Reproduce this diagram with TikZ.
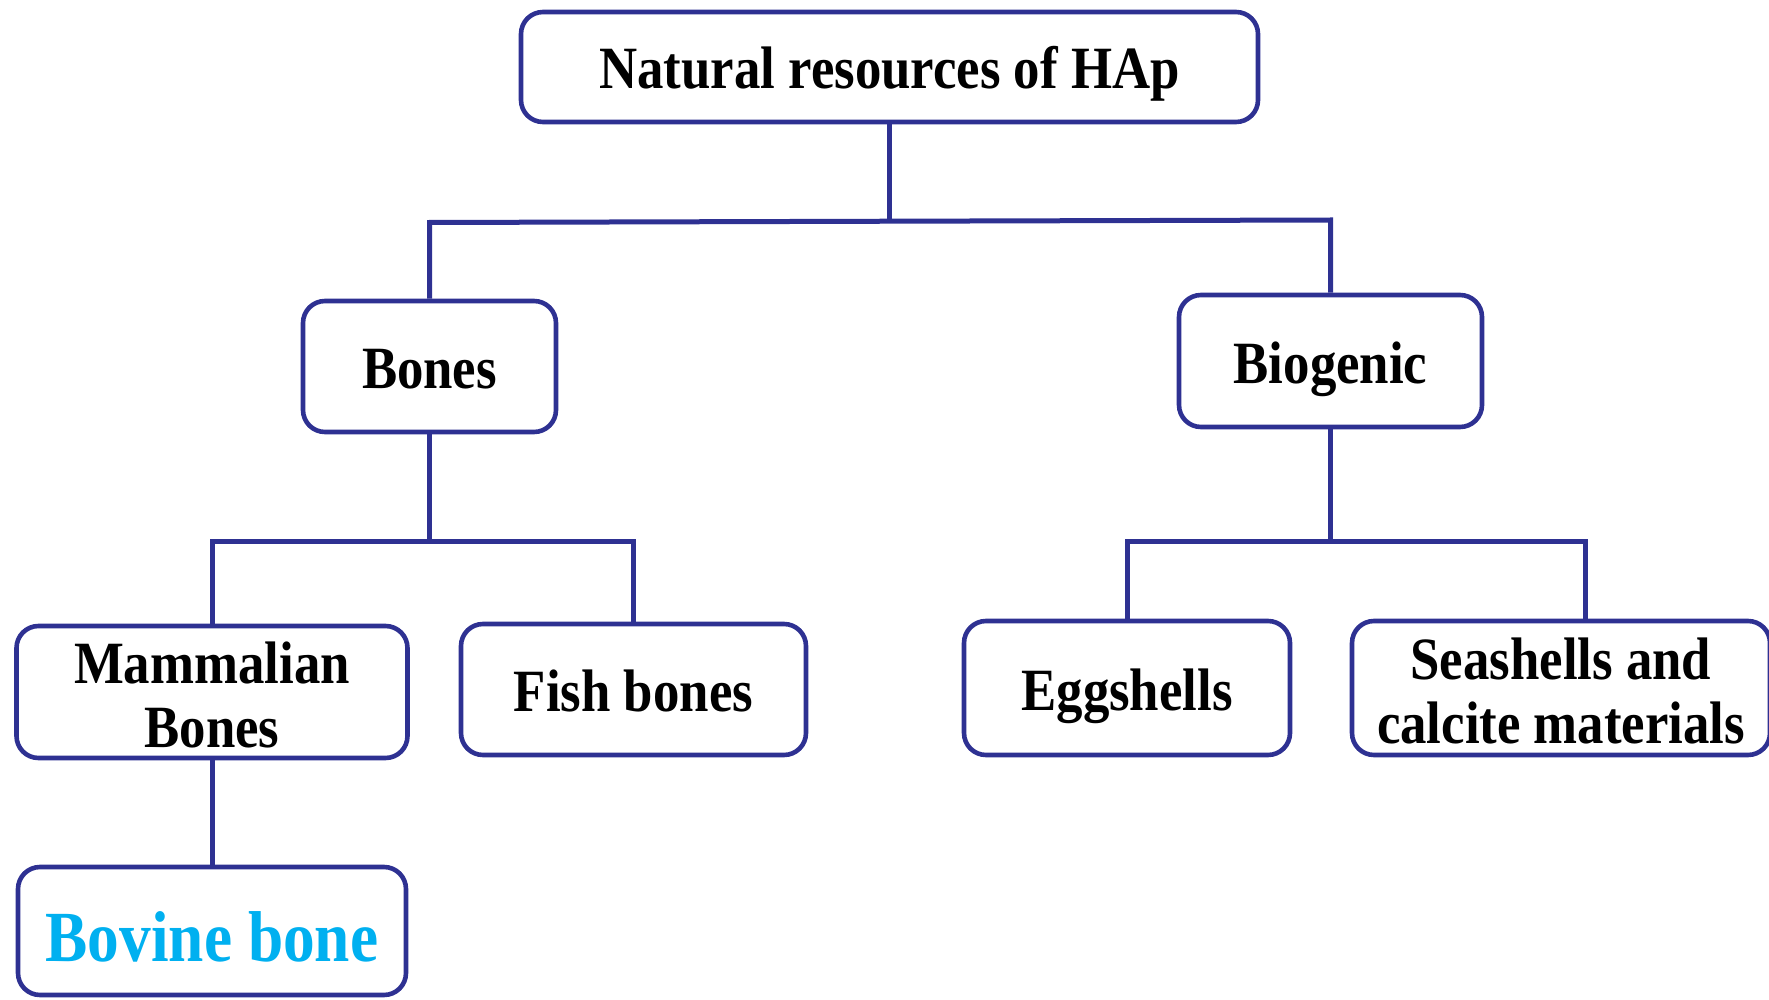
\documentclass[tikz,border=0pt]{standalone}
\usepackage{fontspec}
\newfontfamily\labfont{Liberation Serif}[FakeStretch=0.88]
\definecolor{navy}{RGB}{46,49,146}
\definecolor{bovinecyan}{RGB}{0,176,240}
\newcommand{\firststrut}{\rule{0pt}{47pt}}
\begin{document}
\begin{tikzpicture}[x=1pt,y=-1pt,
  box/.style={draw=navy, line width=4.6pt, rounded corners=22pt, fill=white,
    inner sep=0pt, align=center,
    font=\labfont\bfseries\fontsize{60}{64}\selectfont},
  oneline/.style={text height=52pt, text depth=8pt},
  conn/.style={draw=navy, line width=5pt}]
\useasboundingbox (0,0) rectangle (1769,1000);

% boxes
\node[box, oneline, minimum width=737pt, minimum height=110pt] (top) at (889.5,67) {Natural resources of HAp};
\node[box, oneline, minimum width=253pt, minimum height=131pt] (bones) at (429.5,366.5) {Bones};
\node[box, oneline, minimum width=303pt, minimum height=132pt] (biog) at (1330.5,361) {Biogenic};
\node[box, minimum width=391pt, minimum height=132pt] (mammal) at (212,692) {\firststrut Mammalian\\Bones};
\node[box, oneline, minimum width=345pt, minimum height=131pt] (fish) at (633.5,689.5) {Fish bones};
\node[box, oneline, minimum width=326pt, minimum height=134pt] (egg) at (1127,688) {Eggshells};
\node[box, minimum width=418pt, minimum height=134pt] (sea) at (1561,688) {\firststrut Seashells and\\calcite materials};
\node[box, minimum width=388pt, minimum height=128pt, text=bovinecyan,
  text height=64pt, text depth=4pt,
  font=\labfont\bfseries\fontsize{72}{76}\selectfont] (bovine) at (212,931) {Bovine bone};

% junctions of the bracket connectors
\coordinate (hl) at (429.5,222.5);
\coordinate (hm) at (889.5,221);
\coordinate (hr) at (1330.5,220);
\coordinate (j2) at (429.5,541);
\coordinate (j3) at (1330.5,541);
\coordinate (seatop) at (1585,621);

% connectors
\draw[conn] (top.south) -- (hm);
\draw[conn] (bones.north) -- (hl) -- (hr) -- (biog.north);
\draw[conn] (bones.south) -- (j2);
\draw[conn] (mammal.north) -- (mammal.north |- j2) -- (fish.north |- j2) -- (fish.north);
\draw[conn] (biog.south) -- (j3);
\draw[conn] (egg.north) -- (egg.north |- j3) -- (seatop |- j3) -- (seatop);
\draw[conn] (mammal.south) -- (bovine.north);
\end{tikzpicture}
\end{document}
